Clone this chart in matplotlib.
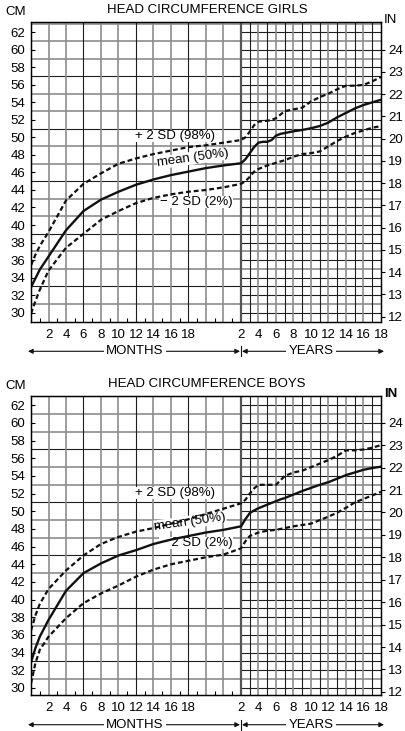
import numpy as np
import matplotlib
matplotlib.use('Agg')
import matplotlib.pyplot as plt

plt.rcParams['font.family'] = ['Liberation Sans', 'DejaVu Sans']
FS = 9.5

# ages: months 0-24, then years 2-18
months = [0, 0.5, 1, 2, 4, 6, 8, 10, 12, 14, 16, 18, 20, 22, 24]
years = [2, 2.5, 3, 3.5, 4, 4.5, 5, 5.5, 6, 6.5, 7, 8, 9, 10, 11, 12, 13, 14, 15, 16, 17, 18]

# head circumference in cm
girls_mean_m = [32.9, 33.9, 34.9, 36.4, 39.4, 41.6, 42.9, 43.8, 44.6, 45.2, 45.7, 46.1, 46.5, 46.8, 47.05]
girls_p98_m = [35.4, 36.6, 37.6, 39.2, 42.8, 44.7, 45.9, 47.0, 47.6, 48.1, 48.5, 48.9, 49.1, 49.4, 49.7]
girls_p2_m = [29.9, 31.3, 32.6, 34.8, 37.4, 39.0, 40.6, 41.6, 42.5, 43.1, 43.5, 43.8, 44.0, 44.3, 44.7]
girls_mean_y = [47.05, 47.5, 48.2, 48.9, 49.4, 49.5, 49.5, 49.7, 50.2, 50.4, 50.5, 50.7, 50.85, 51.05,
                51.3, 51.7, 52.3, 52.8, 53.3, 53.7, 54.0, 54.3]
girls_p98_y = [49.7, 50.0, 50.65, 51.4, 51.8, 51.85, 51.9, 52.0, 52.2, 52.6, 53.0, 53.2, 53.4, 54.1,
               54.6, 55.0, 55.5, 55.9, 55.9, 56.0, 56.4, 56.9]
girls_p2_y = [44.7, 45.0, 45.5, 46.1, 46.4, 46.6, 46.8, 46.95, 47.1, 47.25, 47.4, 47.8, 48.1, 48.2,
              48.4, 49.0, 49.6, 50.1, 50.5, 50.8, 51.1, 51.3]

boys_mean_m = [32.9, 34.5, 35.8, 37.7, 41.0, 43.0, 44.1, 45.0, 45.6, 46.3, 46.8, 47.2, 47.6, 47.9, 48.3]
boys_p98_m = [36.5, 38.2, 39.5, 41.2, 43.3, 45.0, 46.3, 47.1, 47.7, 48.1, 48.6, 49.1, 49.7, 50.3, 50.9]
boys_p2_m = [30.5, 32.8, 34.3, 35.8, 37.9, 39.6, 40.7, 41.6, 42.6, 43.4, 44.0, 44.4, 44.8, 45.1, 45.8]
boys_mean_y = [48.3, 49.1, 49.8, 50.1, 50.35, 50.55, 50.75, 50.95, 51.15, 51.35, 51.5, 51.9, 52.3, 52.65,
               53.0, 53.3, 53.7, 54.1, 54.4, 54.7, 54.9, 55.05]
boys_p98_y = [50.9, 51.3, 52.0, 52.6, 53.0, 53.0, 53.0, 53.0, 53.0, 53.5, 54.0, 54.4, 54.6, 55.0,
              55.4, 55.8, 56.3, 56.9, 56.9, 57.0, 57.2, 57.5]
boys_p2_y = [45.8, 46.6, 47.2, 47.4, 47.6, 47.7, 47.8, 47.85, 47.9, 48.0, 48.1, 48.3, 48.45, 48.6,
             49.0, 49.4, 49.85, 50.4, 51.0, 51.4, 51.8, 52.2]

month_labels = ['2', '4', '6', '8', '10', '12', '14', '16', '18']
year_labels = ['2', '4', '6', '8', '10', '12', '14', '16', '18']
cm_ticks = list(range(30, 63, 2))
in_ticks = list(range(12, 25))

W, H = 405, 731


def fx(px):
    return px / W


def fy(py):
    return 1 - py / H


def age_axis(m, y):
    # months region: 2 months per cell, years region: 2 years per cell
    u = [v / 2 for v in m] + [12 + (v - 2) / 2 for v in y[1:]]
    return np.array(u)


def draw_chart(ax, top, title, mean, p98, p2, ylim, lab_pos, in_bold):
    ax.set_xlim(0, 20)
    ax.set_ylim(*ylim)
    gray, black = '#8c8c8c', '#1e1e1e'
    # grid
    for c in range(31, 64, 2):
        col = black if c in (33, 39, 45, 51, 57) else gray
        ax.hlines(c, 0, 20, color=col, lw=1.2 if col == gray else 0.8, zorder=1)
    for c in range(30, 64, 2):
        ax.hlines(c, 12, 20, color=black, lw=0.8, zorder=1)
    for k in range(1, 12):
        col = black if k % 3 == 0 else gray
        ax.vlines(k, ylim[0], ylim[1], color=col, lw=1.2 if col == gray else 0.8, zorder=1)
    ax.vlines(12, ylim[0], ylim[1], color='#555555', lw=1.6, zorder=1)
    for k in range(1, 16):
        u = 12 + k * 0.5
        col = black if k % 2 == 1 else gray
        ax.vlines(u, ylim[0], ylim[1], color=col, lw=0.8 if col == black else 1.2, zorder=1)

    u = age_axis(months, years)
    dash = (0, (2.2, 1.3))
    ax.plot(u, p98, color='#111111', lw=1.6, ls=dash, zorder=4)
    ax.plot(u, mean, color='#111111', lw=1.7, zorder=4)
    ax.plot(u, p2, color='#111111', lw=1.6, ls=dash, zorder=4)

    box = dict(facecolor='white', edgecolor='none', pad=0.3)
    ax.text(lab_pos[0][0], lab_pos[0][1], '+ 2 SD (98%)', fontsize=FS, ha='center', va='center',
            bbox=box, zorder=3)
    ax.text(lab_pos[1][0], lab_pos[1][1], 'mean (50%)', fontsize=FS, ha='center', va='center',
            rotation=8, rotation_mode='anchor', bbox=box, zorder=3)
    ax.text(lab_pos[2][0], lab_pos[2][1], '\u2212 2 SD (2%)', fontsize=FS, ha='center', va='center',
            bbox=box, zorder=3)

    ax.set_yticks(cm_ticks)
    ax.set_yticklabels([str(t) for t in cm_ticks], fontsize=FS)
    ax.tick_params(axis='y', direction='in', length=3, width=0.8, pad=4)
    ax.set_xticks(list(range(1, 10)) + list(range(12, 21)))
    ax.set_xticklabels(month_labels + year_labels, fontsize=FS)
    ax.set_xticks([k + 0.5 for k in range(0, 12)], minor=True)
    ax.tick_params(axis='x', which='major', length=0, pad=5)
    ax.tick_params(axis='x', which='minor', direction='in', length=3, width=0.8)
    for s in ax.spines.values():
        s.set_linewidth(1.0)
        s.set_zorder(5)

    ax2 = ax.twinx()
    ax2.set_ylim(12 + (ylim[0] - 29.55) / 2.54, 12 + (ylim[1] - 29.55) / 2.54)
    ax2.set_yticks(in_ticks)
    ax2.set_yticklabels([str(t) for t in in_ticks], fontsize=FS)
    ax2.tick_params(axis='y', direction='out', length=3, width=0.8, pad=2)

    fig.text(fx(207), fy(top - 12), title, fontsize=FS, ha='center', va='center')
    fig.text(fx(5), fy(top - 10), 'CM', fontsize=FS, ha='left', va='center')
    fig.text(fx(384), fy(top - 2), 'IN', fontsize=FS, ha='left', va='center',
             fontweight='bold' if in_bold else 'normal')

    # age arrows
    ya = fy(top + 329)
    arr = dict(arrowstyle='<|-|>', lw=0.8, color='#111111', mutation_scale=7, shrinkA=0, shrinkB=0)
    fig.add_artist(matplotlib.patches.FancyArrowPatch((fx(28), ya), (fx(240), ya),
                                                      transform=fig.transFigure, **arr))
    fig.add_artist(matplotlib.patches.FancyArrowPatch((fx(242), ya), (fx(384), ya),
                                                      transform=fig.transFigure, **arr))
    fig.add_artist(matplotlib.lines.Line2D([fx(241), fx(241)], [ya - 5 / H, ya + 5 / H],
                                           transform=fig.transFigure, color='#111111', lw=0.8))
    wb = dict(facecolor='white', edgecolor='none', pad=1.5)
    fig.text(fx(135), ya, 'MONTHS', fontsize=FS, ha='center', va='center', bbox=wb)
    fig.text(fx(311), ya, 'YEARS', fontsize=FS, ha='center', va='center', bbox=wb)


fig = plt.figure(figsize=(W / 100, H / 100), dpi=100)

ax_g = fig.add_axes([fx(31), fy(322), 350 / W, 299.7 / H])
draw_chart(ax_g, 22.3, 'HEAD CIRCUMFERENCE GIRLS',
           girls_mean_m + girls_mean_y[1:], girls_p98_m + girls_p98_y[1:], girls_p2_m + girls_p2_y[1:],
           (28.93, 63.14), [(8.23, 50.16), (9.26, 47.65), (9.43, 42.63)], False)

ax_b = fig.add_axes([fx(31), fy(695), 350 / W, 299.3 / H])
draw_chart(ax_b, 395.7, 'HEAD CIRCUMFERENCE BOYS',
           boys_mean_m + boys_mean_y[1:], boys_p98_m + boys_p98_y[1:], boys_p2_m + boys_p2_y[1:],
           (29.2, 63.09), [(8.23, 52.07), (9.09, 48.79), (9.43, 46.41)], True)

fig.savefig('out.png', dpi=100)
